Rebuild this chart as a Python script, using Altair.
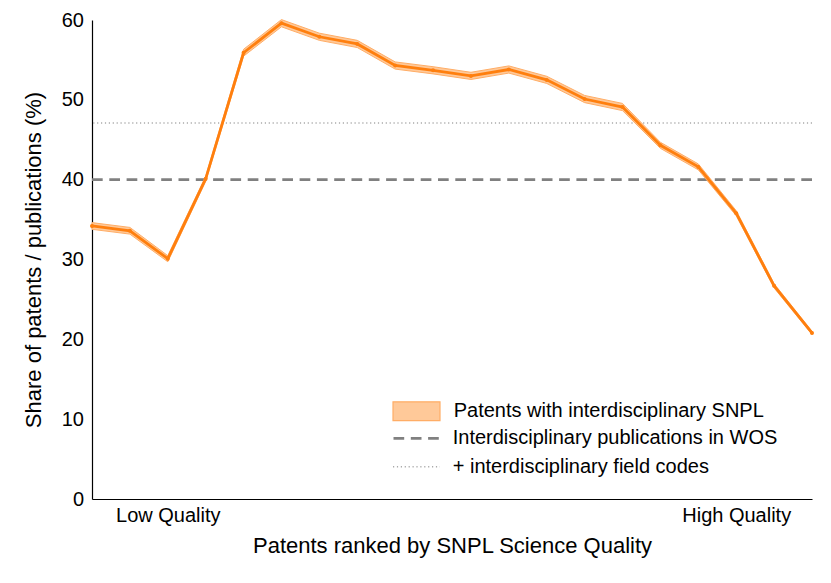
import altair as alt
import pandas as pd

# ---- data ----
rank = list(range(1, 21))
share = [34.2, 33.6, 30.1, 40.1, 55.9, 59.6, 57.9, 57.0, 54.3, 53.7,
         53.0, 53.8, 52.5, 50.1, 49.1, 44.3, 41.6, 35.8, 26.7, 20.8]
share_lo = [33.78, 33.18, 29.72, 39.78, 55.47, 59.15, 57.45, 56.55, 53.85, 53.25,
            52.55, 53.35, 52.05, 49.65, 48.65, 43.92, 41.23, 35.48, 26.43, 20.6]
share_hi = [34.62, 34.02, 30.48, 40.42, 56.33, 60.05, 58.35, 57.45, 54.75, 54.15,
            53.45, 54.25, 52.95, 50.55, 49.55, 44.68, 41.97, 36.12, 26.97, 21.0]

series_labels = ["Patents with interdisciplinary SNPL",
                 "Interdisciplinary publications in WOS",
                 "+ interdisciplinary field codes"]
ref_values = [40.0, 47.1]
tick_positions = [3, 18]
tick_labels = ["Low Quality", "High Quality"]

FONT = "Liberation Sans"
ORANGE = "#ff7f0e"
BAND_FILL = "#ffc999"
BAND_EDGE = "#ffad66"
DASH_GRAY = "#808080"
DOT_GRAY = "#aaaaaa"
DASH = [10.7, 6.6]
DOT = [1.2, 2.7]

df = pd.DataFrame({"rank": rank, "share": share, "lo": share_lo, "hi": share_hi,
                   "series": series_labels[0]})
dash_df = pd.DataFrame({"series": [series_labels[1]], "y": [ref_values[0]]})
dot_df = pd.DataFrame({"series": [series_labels[2]], "y": [ref_values[1]]})

label_expr = f"datum.value == {tick_positions[0]} ? '{tick_labels[0]}' : '{tick_labels[1]}'"

x_enc = alt.X(
    "rank:Q",
    scale=alt.Scale(domain=[1, 20], nice=False, zero=False),
    axis=alt.Axis(
        values=tick_positions, labelExpr=label_expr, ticks=False, grid=False,
        domainColor="black", domainWidth=1.2,
        labelFont=FONT, labelFontSize=20, labelColor="black",
        labelBaseline="alphabetic", labelPadding=22, labelAlign="center",
        title="Patents ranked by SNPL Science Quality",
        titleFont=FONT, titleFontSize=22, titleFontWeight="normal", titleColor="black",
        titleX=360, titleY=53, titleBaseline="alphabetic", titleAlign="center",
    ),
)

y_scale = alt.Scale(domain=[0, 60], nice=False, zero=True)
y_axis = alt.Axis(
    values=[0, 10, 20, 30, 40, 50, 60], ticks=False, grid=False,
    domainColor="black", domainWidth=1.2,
    labelFont=FONT, labelFontSize=20, labelColor="black", labelPadding=8.5,
    title="Share of patents / publications (%)",
    titleFont=FONT, titleFontSize=22, titleFontWeight="normal", titleColor="black",
    titleX=-51.5, titleY=239.5, titleBaseline="alphabetic", titleAlign="center",
    titleAngle=270,
)


def make_legend(y, label_offset, **kw):
    return alt.Legend(
        title=None, orient="none", legendX=300, legendY=y, padding=0,
        symbolSize=2209, clipHeight=26, symbolOffset=0, labelOffset=label_offset,
        labelFont=FONT, labelFontSize=20, labelColor="black", labelLimit=0,
        **kw,
    )


band = alt.Chart(df).mark_area(
    fillOpacity=1, stroke=BAND_EDGE, strokeWidth=1
).encode(
    x=x_enc,
    y=alt.Y("lo:Q", scale=y_scale, axis=y_axis),
    y2="hi:Q",
    fill=alt.Fill(
        "series:N",
        scale=alt.Scale(domain=[series_labels[0]], range=[BAND_FILL]),
        legend=make_legend(378.2, 12.7, symbolType="M-1,-0.4H1V0.4H-1Z",
                           symbolStrokeWidth=1.2, symbolStrokeColor=BAND_EDGE,
                           symbolOpacity=1),
    ),
)

line = alt.Chart(df).mark_line(color=ORANGE, strokeWidth=2.8).encode(
    x=x_enc, y=alt.Y("share:Q", scale=y_scale, axis=y_axis)
)

dots = alt.Chart(df).mark_circle(color=ORANGE, size=16, opacity=1).encode(
    x=x_enc, y=alt.Y("share:Q", scale=y_scale, axis=y_axis)
)

dashed = alt.Chart(dash_df).mark_rule(strokeWidth=2.7, strokeDash=DASH).encode(
    y=alt.Y("y:Q", scale=y_scale, axis=y_axis),
    stroke=alt.Stroke(
        "series:N",
        scale=alt.Scale(domain=[series_labels[1]], range=[DASH_GRAY]),
        legend=make_legend(405.3, 10.7, symbolType="stroke", symbolDash=DASH,
                           symbolStrokeWidth=2.7, symbolStrokeColor=DASH_GRAY),
    ),
)

dotted = alt.Chart(dot_df).mark_rule(strokeWidth=1.5, color=DOT_GRAY).encode(
    y=alt.Y("y:Q", scale=y_scale, axis=y_axis),
    strokeDash=alt.StrokeDash(
        "series:N",
        scale=alt.Scale(domain=[series_labels[2]], range=[DOT]),
        legend=make_legend(433.7, 11.7, symbolType="stroke",
                           symbolStrokeWidth=1.5, symbolStrokeColor=DOT_GRAY),
    ),
)

chart = alt.layer(dotted, dashed, band, line, dots).properties(
    width=720, height=479,
    padding={"left": 84, "top": 12, "right": 11, "bottom": 70},
    autosize=alt.AutoSizeParams(type="none"),
    background="white",
).configure_view(stroke=None)

chart.save("out.html", embed_options={"renderer": "svg", "actions": False})
